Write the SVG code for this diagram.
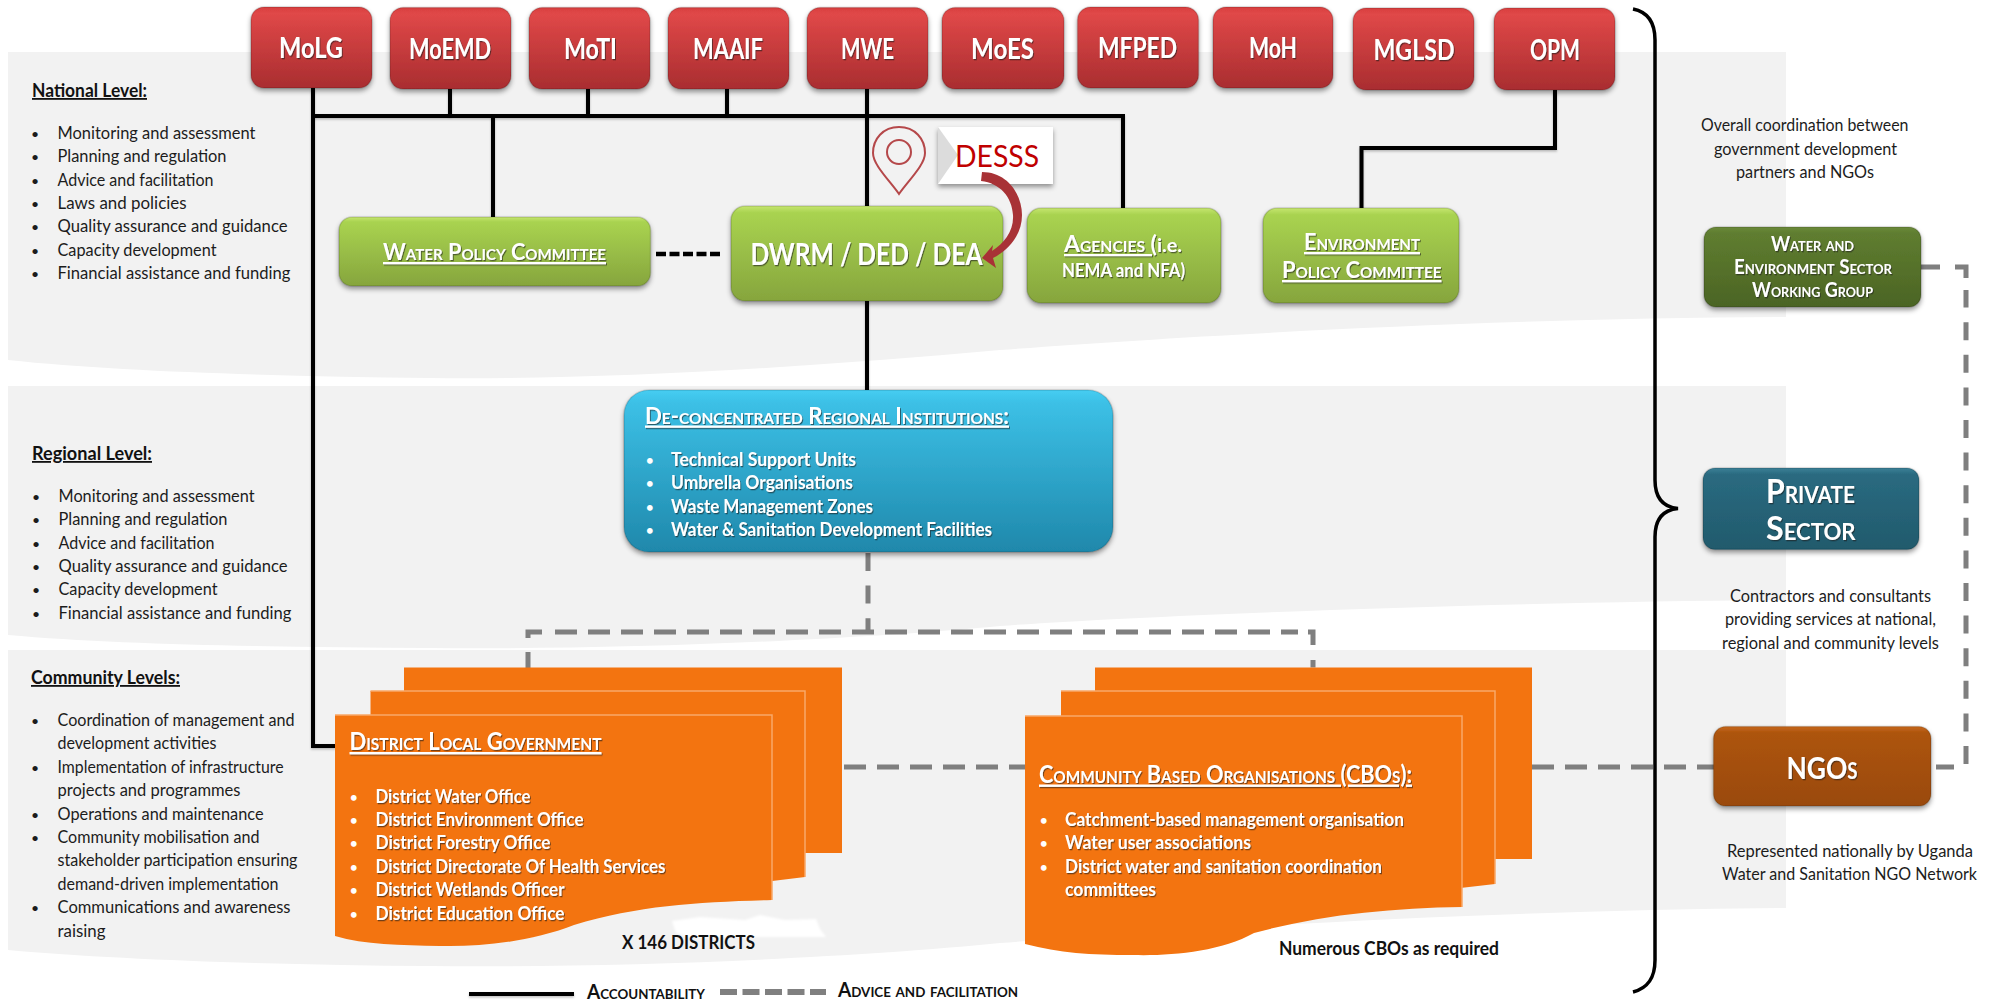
<svg xmlns="http://www.w3.org/2000/svg" width="1996" height="1001" viewBox="0 0 1996 1001">
<style>
text{font-family:Lato,"Open Sans","Liberation Sans",sans-serif}
.t{font-size:18px;fill:#1c1c1c}
.h{font-size:18px;font-weight:700;fill:#111;text-decoration:underline}
.w{font-size:18px;fill:#fff;font-weight:700;filter:url(#ts)}
.b{font-size:13px;fill:#fff;font-weight:700}
.d{font-size:14px;fill:#1c1c1c}
.r{font-size:28px;font-weight:700;fill:#fff;text-anchor:middle;filter:url(#ts)}
.sc{font-variant:small-caps;fill:#fff;font-weight:700;filter:url(#ts)}
.u{text-decoration:underline}
.k{font-size:18px;font-weight:700;fill:#111}
.band{fill:#f2f2f2}
.line{fill:none;stroke:#000;stroke-width:4;filter:url(#ls)}
.dash{fill:none;stroke:#7f7f7f;stroke-width:5;stroke-dasharray:22 11}
.vd{fill:none;stroke:#7f7f7f;stroke-width:5;stroke-dasharray:18 14.600}
.sd{fill:none;stroke:#7f7f7f;stroke-width:5}
.box{filter:url(#ds);stroke:#000;stroke-opacity:.14;stroke-width:1.500}
.org{fill:#f37410}
.edge{fill:none;stroke:#f9a868;stroke-width:1.500}
</style>
<defs>
<linearGradient id="gr" x1="0" y1="0" x2="0" y2="1"><stop offset="0" stop-color="#d83f3f"/><stop offset=".08" stop-color="#e04848"/><stop offset="1" stop-color="#a92d30"/></linearGradient>
<linearGradient id="gg" x1="0" y1="0" x2="0" y2="1"><stop offset="0" stop-color="#c6e670"/><stop offset=".07" stop-color="#a9d350"/><stop offset="1" stop-color="#86a53d"/></linearGradient>
<linearGradient id="gd" x1="0" y1="0" x2="0" y2="1"><stop offset="0" stop-color="#6b8a3a"/><stop offset=".08" stop-color="#5f7d30"/><stop offset="1" stop-color="#4b6424"/></linearGradient>
<linearGradient id="gt" x1="0" y1="0" x2="0" y2="1"><stop offset="0" stop-color="#3a8097"/><stop offset=".08" stop-color="#2a6a80"/><stop offset="1" stop-color="#215a6c"/></linearGradient>
<linearGradient id="gb" x1="0" y1="0" x2="0" y2="1"><stop offset="0" stop-color="#c8681c"/><stop offset=".08" stop-color="#ad540c"/><stop offset="1" stop-color="#9a4a08"/></linearGradient>
<linearGradient id="gc" x1="0" y1="0" x2="0" y2="1"><stop offset="0" stop-color="#46cdf2"/><stop offset=".08" stop-color="#3cc0e6"/><stop offset="1" stop-color="#1f88ab"/></linearGradient>
<filter id="ds" x="-10%" y="-10%" width="120%" height="125%"><feDropShadow dx="0" dy="3" stdDeviation="2.500" flood-color="#000" flood-opacity=".4"/></filter>
<filter id="ts" x="-5%" y="-20%" width="110%" height="150%"><feDropShadow dx="1" dy="1.200" stdDeviation=".5" flood-color="#222" flood-opacity=".6"/></filter>
<filter id="ls" x="0" y="0" width="1996" height="1001" filterUnits="userSpaceOnUse"><feDropShadow dx="0" dy="1.500" stdDeviation="1" flood-color="#000" flood-opacity=".25"/></filter>
<filter id="bl"><feGaussianBlur stdDeviation=".8"/></filter>
</defs>

<g id="bands">
<path class="band" d="M8 52H1786V317C1500 318 1200 335 1000 350C800 368 600 380 430 378C280 376 120 372 8 360Z"/>
<path class="band" d="M8 386H1786V600C1500 602 1150 615 1000 626C850 640 620 650 430 648C280 647 120 645 8 635Z"/>
<path class="band" d="M8 650H1786V908C1500 910 1200 928 1000 943C850 958 620 968 430 966C280 965 120 960 8 950Z"/>
<path fill="#fff" filter="url(#bl)" d="M672 921L700 917L745 920L760 915L785 920L816 919L820 929L826 937L690 937L676 933Z"/>
</g>

<g id="level-text">
<text class="h" x="32" y="97" textLength="115" lengthAdjust="spacingAndGlyphs">National Level:</text>
<g class="t">
<text class="d" x="31" y="139">•</text><text x="57.500" y="139" textLength="198" lengthAdjust="spacingAndGlyphs">Monitoring and assessment</text>
<text class="d" x="31" y="162">•</text><text x="57.500" y="162" textLength="169" lengthAdjust="spacingAndGlyphs">Planning and regulation</text>
<text class="d" x="31" y="185.500">•</text><text x="57.500" y="185.500" textLength="156" lengthAdjust="spacingAndGlyphs">Advice and facilitation</text>
<text class="d" x="31" y="209">•</text><text x="57.500" y="209" textLength="129" lengthAdjust="spacingAndGlyphs">Laws and policies</text>
<text class="d" x="31" y="232">•</text><text x="57.500" y="232" textLength="230" lengthAdjust="spacingAndGlyphs">Quality assurance and guidance</text>
<text class="d" x="31" y="255.500">•</text><text x="57.500" y="255.500" textLength="159" lengthAdjust="spacingAndGlyphs">Capacity development</text>
<text class="d" x="31" y="279">•</text><text x="57.500" y="279" textLength="233" lengthAdjust="spacingAndGlyphs">Financial assistance and funding</text>
</g>
<text class="h" x="32" y="460" textLength="120" lengthAdjust="spacingAndGlyphs">Regional Level:</text>
<g class="t">
<text class="d" x="32" y="502">•</text><text x="58.500" y="502" textLength="196" lengthAdjust="spacingAndGlyphs">Monitoring and assessment</text>
<text class="d" x="32" y="525.300">•</text><text x="58.500" y="525.300" textLength="169" lengthAdjust="spacingAndGlyphs">Planning and regulation</text>
<text class="d" x="32" y="548.600">•</text><text x="58.500" y="548.600" textLength="156" lengthAdjust="spacingAndGlyphs">Advice and facilitation</text>
<text class="d" x="32" y="572">•</text><text x="58.500" y="572" textLength="229" lengthAdjust="spacingAndGlyphs">Quality assurance and guidance</text>
<text class="d" x="32" y="595.300">•</text><text x="58.500" y="595.300" textLength="159" lengthAdjust="spacingAndGlyphs">Capacity development</text>
<text class="d" x="32" y="618.600">•</text><text x="58.500" y="618.600" textLength="233" lengthAdjust="spacingAndGlyphs">Financial assistance and funding</text>
</g>
<text class="h" x="31" y="684" textLength="149" lengthAdjust="spacingAndGlyphs">Community Levels:</text>
<g class="t">
<text class="d" x="31" y="726">•</text><text x="57.500" y="726" textLength="237" lengthAdjust="spacingAndGlyphs">Coordination of management and</text>
<text x="57.500" y="749.400" textLength="159" lengthAdjust="spacingAndGlyphs">development activities</text>
<text class="d" x="31" y="772.800">•</text><text x="57.500" y="772.800" textLength="226" lengthAdjust="spacingAndGlyphs">Implementation of infrastructure</text>
<text x="57.500" y="796.200" textLength="183" lengthAdjust="spacingAndGlyphs">projects and programmes</text>
<text class="d" x="31" y="819.600">•</text><text x="57.500" y="819.600" textLength="206" lengthAdjust="spacingAndGlyphs">Operations and maintenance</text>
<text class="d" x="31" y="843">•</text><text x="57.500" y="843" textLength="202" lengthAdjust="spacingAndGlyphs">Community mobilisation and</text>
<text x="57.500" y="866.400" textLength="240" lengthAdjust="spacingAndGlyphs">stakeholder participation ensuring</text>
<text x="57.500" y="889.800" textLength="221" lengthAdjust="spacingAndGlyphs">demand-driven implementation</text>
<text class="d" x="31" y="913.200">•</text><text x="57.500" y="913.200" textLength="233" lengthAdjust="spacingAndGlyphs">Communications and awareness</text>
<text x="57.500" y="936.600" textLength="48" lengthAdjust="spacingAndGlyphs">raising</text>
</g>
</g>

<g id="connectors">
<path class="line" d="M313 88V746H336"/>
<path class="line" d="M313 116H1123V208"/>
<path class="line" d="M450 89V116M588 89V116M727 89V116M493 116V217"/>
<path class="line" d="M867 89V206M867 300V391"/>
<path class="line" d="M1555 90V148H1361.500V208"/>
<path d="M656 254H722" fill="none" stroke="#000" stroke-width="4.500" stroke-dasharray="10 3.500"/>
<path class="vd" d="M868 553V632"/>
<path class="dash" d="M555 632H1298"/>
<path class="sd" d="M528 638V632H542M528 652V671"/>
<path class="sd" d="M1308 632H1313V645M1313 660V667.500"/>
<path class="dash" d="M844 767H1026"/>
<path class="dash" d="M1532 767H1714"/>
<path class="sd" d="M1936 767H1954"/>
<path class="vd" d="M1966 764V290"/>
<path class="sd" d="M1966 278V267H1955M1940 267H1921"/>
</g>

<g id="brace"><path d="M1633 9C1648 12 1655 22 1655 40V480C1655 497 1662 507 1678 508.500C1662 510 1655 520 1655 537V960C1655 978 1648 988 1633 992" fill="none" stroke="#000" stroke-width="3.500"/></g>

<g id="MoLG"><rect class="box" x="251" y="7" width="121" height="81" rx="13" fill="url(#gr)"/><text class="r" x="311" y="58" textLength="64" lengthAdjust="spacingAndGlyphs">MoLG</text></g>
<g id="MoEMD"><rect class="box" x="390" y="7.500" width="121" height="81.500" rx="13" fill="url(#gr)"/><text class="r" x="450" y="59" textLength="82" lengthAdjust="spacingAndGlyphs">MoEMD</text></g>
<g id="MoTI"><rect class="box" x="529" y="7.500" width="121" height="81.500" rx="13" fill="url(#gr)"/><text class="r" x="590.500" y="59" textLength="53" lengthAdjust="spacingAndGlyphs">MoTI</text></g>
<g id="MAAIF"><rect class="box" x="668" y="7.500" width="121" height="81.500" rx="13" fill="url(#gr)"/><text class="r" x="728" y="59" textLength="70" lengthAdjust="spacingAndGlyphs">MAAIF</text></g>
<g id="MWE"><rect class="box" x="807" y="7.500" width="121" height="81.500" rx="13" fill="url(#gr)"/><text class="r" x="867.500" y="59" textLength="53" lengthAdjust="spacingAndGlyphs">MWE</text></g>
<g id="MoES"><rect class="box" x="942" y="7.500" width="122" height="81.500" rx="13" fill="url(#gr)"/><text class="r" x="1002.500" y="59" textLength="63" lengthAdjust="spacingAndGlyphs">MoES</text></g>
<g id="MFPED"><rect class="box" x="1077.500" y="7" width="121" height="81" rx="13" fill="url(#gr)"/><text class="r" x="1137.500" y="58" textLength="79" lengthAdjust="spacingAndGlyphs">MFPED</text></g>
<g id="MoH"><rect class="box" x="1213" y="7" width="120" height="81" rx="13" fill="url(#gr)"/><text class="r" x="1273" y="58" textLength="48" lengthAdjust="spacingAndGlyphs">MoH</text></g>
<g id="MGLSD"><rect class="box" x="1353" y="8" width="121" height="82" rx="13" fill="url(#gr)"/><text class="r" x="1414" y="60" textLength="81" lengthAdjust="spacingAndGlyphs">MGLSD</text></g>
<g id="OPM"><rect class="box" x="1494" y="8" width="121" height="82" rx="13" fill="url(#gr)"/><text class="r" x="1555" y="60" textLength="50" lengthAdjust="spacingAndGlyphs">OPM</text></g>

<g id="water-policy-committee"><rect class="box" x="339" y="217" width="311.500" height="69" rx="13" fill="url(#gg)"/><text class="sc u" x="383" y="260" font-size="23" textLength="223" lengthAdjust="spacingAndGlyphs">Water Policy Committee</text></g>
<g id="dwrm-ded-dea"><rect class="box" x="731" y="206" width="272" height="95" rx="14" fill="url(#gg)"/><text x="750.500" y="265" font-size="30" font-weight="700" fill="#fff" filter="url(#ts)" textLength="232" lengthAdjust="spacingAndGlyphs">DWRM / DED / DEA</text></g>
<g id="agencies"><rect class="box" x="1027" y="208" width="194" height="95" rx="14" fill="url(#gg)"/><text class="sc" x="1064" y="252" font-size="22" textLength="118" lengthAdjust="spacingAndGlyphs"><tspan class="u">Agencies (</tspan><tspan style="font-variant:normal" font-size="19">i.e.</tspan></text><text x="1062" y="277" font-size="19" font-weight="700" fill="#fff" filter="url(#ts)" textLength="123" lengthAdjust="spacingAndGlyphs">NEMA and NFA)</text></g>
<g id="environment-policy-committee"><rect class="box" x="1263" y="208" width="196" height="95" rx="14" fill="url(#gg)"/><text class="sc u" x="1304" y="250" font-size="23" textLength="116" lengthAdjust="spacingAndGlyphs">Environment</text><text class="sc u" x="1282" y="278" font-size="23" textLength="159.500" lengthAdjust="spacingAndGlyphs">Policy Committee</text></g>
<g id="working-group"><rect class="box" x="1704" y="227" width="217" height="80" rx="12" fill="url(#gd)"/><text class="sc" x="1771" y="251" font-size="20" textLength="83" lengthAdjust="spacingAndGlyphs">Water and</text><text class="sc" x="1734" y="274" font-size="20" textLength="158" lengthAdjust="spacingAndGlyphs">Environment Sector</text><text class="sc" x="1752" y="297" font-size="20" textLength="121" lengthAdjust="spacingAndGlyphs">Working Group</text></g>
<g id="private-sector"><rect class="box" x="1703" y="468" width="216" height="81.500" rx="12" fill="url(#gt)"/><text class="sc" x="1766" y="503" font-size="32" textLength="89" lengthAdjust="spacingAndGlyphs">Private</text><text class="sc" x="1766" y="540" font-size="32" textLength="89.500" lengthAdjust="spacingAndGlyphs">Sector</text></g>
<g id="ngos"><rect class="box" x="1713.500" y="726.500" width="217.500" height="79.500" rx="12" fill="url(#gb)"/><text class="sc" x="1786.500" y="779" font-size="31" textLength="71" lengthAdjust="spacingAndGlyphs">NGOs</text></g>

<g id="regional-institutions"><rect class="box" x="624" y="390" width="489" height="162" rx="25" fill="url(#gc)"/>
<text class="sc u" x="645" y="423.500" font-size="23" textLength="364" lengthAdjust="spacingAndGlyphs">De-concentrated Regional Institutions:</text>
<text class="b" x="646" y="465">•</text><text class="w" x="671" y="466" textLength="185" lengthAdjust="spacingAndGlyphs">Technical Support Units</text>
<text class="b" x="646" y="488.400">•</text><text class="w" x="671" y="489.400" textLength="182" lengthAdjust="spacingAndGlyphs">Umbrella Organisations</text>
<text class="b" x="646" y="511.800">•</text><text class="w" x="671" y="512.800" textLength="202" lengthAdjust="spacingAndGlyphs">Waste Management Zones</text>
<text class="b" x="646" y="535.200">•</text><text class="w" x="671" y="536.200" textLength="321" lengthAdjust="spacingAndGlyphs">Water &amp; Sanitation Development Facilities</text>
</g>

<g id="district-local-government">
<rect class="org" x="404" y="667.500" width="438" height="185.500"/>
<path class="org" d="M370.500 691H805V877L700 890H370.500Z"/><path class="edge" d="M370.500 691H805V877"/>
<path class="org" d="M335 715H772V900C700 902 640 905 574 925C530 942 480 947 440 946C400 945 365 945 335 936Z"/><path class="edge" d="M335 715H772V900"/>
<text class="sc u" x="349.500" y="750" font-size="24" textLength="252" lengthAdjust="spacingAndGlyphs">District Local Government</text>
<text class="b" x="350" y="801.600">•</text><text class="w" x="375.500" y="802.600" textLength="155" lengthAdjust="spacingAndGlyphs">District Water Office</text>
<text class="b" x="350" y="825">•</text><text class="w" x="375.500" y="826" textLength="208" lengthAdjust="spacingAndGlyphs">District Environment Office</text>
<text class="b" x="350" y="848.400">•</text><text class="w" x="375.500" y="849.400" textLength="175" lengthAdjust="spacingAndGlyphs">District Forestry Office</text>
<text class="b" x="350" y="871.800">•</text><text class="w" x="375.500" y="872.800" textLength="290" lengthAdjust="spacingAndGlyphs">District Directorate Of Health Services</text>
<text class="b" x="350" y="895.200">•</text><text class="w" x="375.500" y="896.200" textLength="189" lengthAdjust="spacingAndGlyphs">District Wetlands Officer</text>
<text class="b" x="350" y="918.600">•</text><text class="w" x="375.500" y="919.600" textLength="189" lengthAdjust="spacingAndGlyphs">District Education Office</text>
<text class="k" x="622" y="949" textLength="133" lengthAdjust="spacingAndGlyphs">X 146 DISTRICTS</text>
</g>

<g id="community-based-organisations">
<rect class="org" x="1095" y="667.500" width="437" height="191.500"/>
<path class="org" d="M1061 691H1495V884L1400 895H1061Z"/><path class="edge" d="M1061 691H1495V884"/>
<path class="org" d="M1025 716H1462V907C1390 908 1320 915 1254 933C1220 952 1170 956 1133 955C1090 955 1060 953 1025 944Z"/><path class="edge" d="M1025 716H1462V907"/>
<text class="sc u" x="1039" y="782.500" font-size="24" textLength="373" lengthAdjust="spacingAndGlyphs">Community Based Organisations (CBOs):</text>
<text class="b" x="1040" y="825">•</text><text class="w" x="1065" y="826" textLength="339" lengthAdjust="spacingAndGlyphs">Catchment-based management organisation</text>
<text class="b" x="1040" y="848.400">•</text><text class="w" x="1065" y="849.400" textLength="186" lengthAdjust="spacingAndGlyphs">Water user associations</text>
<text class="b" x="1040" y="871.800">•</text><text class="w" x="1065" y="872.800" textLength="317" lengthAdjust="spacingAndGlyphs">District water and sanitation coordination</text>
<text class="w" x="1065" y="896.200" textLength="91" lengthAdjust="spacingAndGlyphs">committees</text>
<text class="k" x="1279" y="955" textLength="220" lengthAdjust="spacingAndGlyphs">Numerous CBOs as required</text>
</g>

<g id="desss">
<path d="M899 127C883 127 873 139 873 153C873 165 890 181 899 194C908 181 925 165 925 153C925 139 915 127 899 127Z" fill="none" stroke="#b5484a" stroke-width="2"/>
<circle cx="899" cy="152" r="12" fill="none" stroke="#b5484a" stroke-width="2"/>
<rect x="938" y="127" width="115" height="57" fill="#fff" filter="url(#ds)"/>
<path d="M938 127L958 155L938 184Z" fill="#dcdcdc"/>
<text x="955" y="167" font-size="31" fill="#c00000" textLength="84" lengthAdjust="spacingAndGlyphs">DESSS</text>
<path d="M982 172C1008 172 1022 195 1022 215C1022 236 1007 251 993 258L996 268L982 258L993 245L992 251C1004 243 1014 231 1013 215C1012 197 1000 183 981 181Z" fill="#a83236"/>
</g>

<g id="notes" class="t">
<text x="1701" y="131" textLength="207.500" lengthAdjust="spacingAndGlyphs">Overall coordination between</text>
<text x="1714" y="154.500" textLength="183" lengthAdjust="spacingAndGlyphs">government development</text>
<text x="1736" y="178" textLength="138" lengthAdjust="spacingAndGlyphs">partners and NGOs</text>
<text x="1730" y="602" textLength="201" lengthAdjust="spacingAndGlyphs">Contractors and consultants</text>
<text x="1725" y="625" textLength="211" lengthAdjust="spacingAndGlyphs">providing services at national,</text>
<text x="1722" y="648.500" textLength="217" lengthAdjust="spacingAndGlyphs">regional and community levels</text>
<text x="1727" y="857" textLength="246" lengthAdjust="spacingAndGlyphs">Represented nationally by Uganda</text>
<text x="1722" y="880" font-size="17" style="font-size:17px" textLength="255" lengthAdjust="spacingAndGlyphs">Water and Sanitation NGO Network</text>
</g>

<g id="legend">
<path d="M469 994H574" class="line"/>
<path d="M720 992H826" fill="none" stroke="#808080" stroke-width="6" stroke-dasharray="17 5.500"/>
<text x="587" y="999" font-size="20" font-weight="700" fill="#111" style="font-variant:small-caps" textLength="118" lengthAdjust="spacingAndGlyphs">Accountability</text>
<text x="838" y="997" font-size="20" font-weight="700" fill="#111" style="font-variant:small-caps" textLength="180" lengthAdjust="spacingAndGlyphs">Advice and facilitation</text>
</g>
</svg>
